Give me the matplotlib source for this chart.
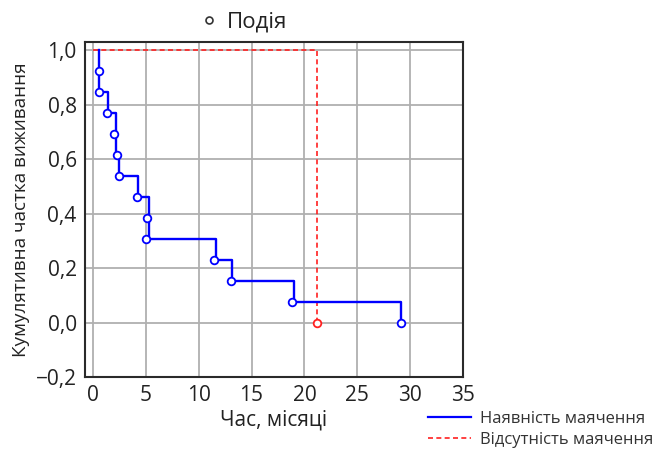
import numpy as np
import matplotlib.pyplot as plt
from matplotlib.lines import Line2D

plt.rcParams['font.family'] = ['Open Sans', 'DejaVu Sans']

# group with delirium: step times and survival after each step
blue_t = [0.53, 0.53, 1.47, 2.2, 2.5, 4.3, 5.27, 11.63, 13.2, 19.0, 29.15]
blue_s = [1.0, 0.846, 0.769, 0.615, 0.538, 0.462, 0.308, 0.231, 0.154, 0.077, 0.0]
# event markers (one per patient)
blue_ev_t = [0.53, 0.53, 1.32, 2.04, 2.26, 2.42, 4.2, 5.09, 5.03, 11.44, 13.05, 18.87, 29.1]
blue_ev_s = [0.923, 0.846, 0.769, 0.692, 0.615, 0.538, 0.462, 0.385, 0.308, 0.231, 0.154, 0.077, 0.0]

# group without delirium
red_t = [0.0, 21.2]
red_s = [1.0, 0.0]
red_ev_t = [21.2]
red_ev_s = [0.0]

xticks = [0, 5, 10, 15, 20, 25, 30, 35]
yticks = [-0.2, 0.0, 0.2, 0.4, 0.6, 0.8, 1.0]
ytick_labels = ['\u22120,2', '0,0', '0,2', '0,4', '0,6', '0,8', '1,0']

fig = plt.figure(figsize=(6.52, 4.5), dpi=100)
ax = fig.add_axes([85 / 652, 73 / 450, 378 / 652, 335 / 450])

ax.step(red_t, red_s, where='post', color='#ff2020', lw=1.2, ls=(0, (3, 2)), zorder=3)
ax.step(blue_t, blue_s, where='post', color='#0000ff', lw=1.7, zorder=4)
ax.plot(blue_ev_t, blue_ev_s, 'o', ms=5.5, mfc='white', mec='#0000ff', mew=1.3, zorder=5)
ax.plot(red_ev_t, red_ev_s, 'o', ms=5.5, mfc='white', mec='#ff2020', mew=1.3, zorder=5)

ax.set_xlim(-0.75, 35)
ax.set_ylim(-0.2, 1.03)
ax.set_xticks(xticks)
ax.set_yticks(yticks)
ax.set_yticklabels(ytick_labels)
ax.tick_params(length=0, labelsize=15, colors='#222222', pad=6)
ax.grid(True, color='#b0b0b0', lw=1.3)
ax.set_axisbelow(True)
for sp in ax.spines.values():
    sp.set_color('#2a2a2a')
    sp.set_linewidth(1.5)

ax.set_xlabel('Час, місяці', fontsize=15, color='#222222', labelpad=2)
ax.set_ylabel('Кумулятивна частка виживання', fontsize=13.6, color='#222222', labelpad=4)

ev_handle = Line2D([], [], marker='o', ls='none', ms=5, mfc='white', mec='#333333', mew=1.2)
fig.legend(handles=[ev_handle], labels=['Подія'], loc='center left', bbox_to_anchor=(196 / 652, 1 - 22 / 450),
           frameon=False, fontsize=16, handletextpad=0.2, handlelength=1.2,
           labelcolor='#222222', borderaxespad=0, borderpad=0)

grp_handles = [Line2D([], [], color='#0000ff', lw=1.6),
               Line2D([], [], color='#ff2020', lw=1.2, ls=(0, (3, 2)))]
fig.legend(handles=grp_handles, labels=['Наявність маячення', 'Відсутність маячення'],
           loc='upper left', bbox_to_anchor=(421 / 652, 1 - 404 / 450), frameon=False,
           fontsize=12, handlelength=2.6, handletextpad=0.55, labelspacing=0.3,
           labelcolor='#333333', borderaxespad=0)

fig.savefig('out.png', dpi=100)
